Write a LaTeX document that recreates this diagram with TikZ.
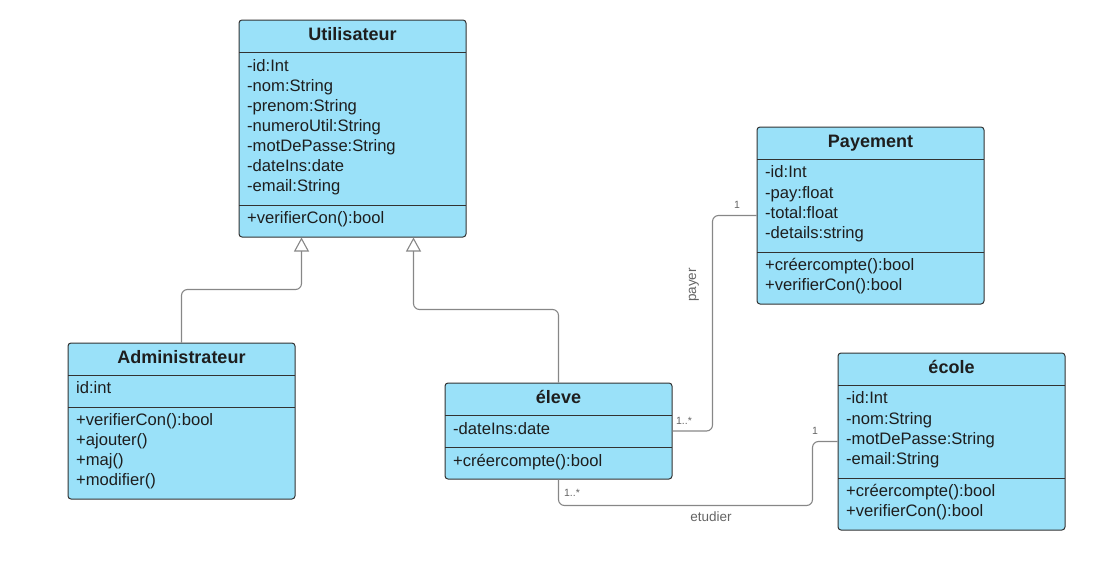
\documentclass[tikz,border=0pt]{standalone}
\usepackage{fontspec}
\setmainfont{Liberation Sans}
\usetikzlibrary{arrows.meta,calc}
\definecolor{clsfill}{RGB}{154,225,249}
\definecolor{clsdraw}{RGB}{50,50,50}
\definecolor{conn}{RGB}{135,135,135}
\definecolor{lbl}{RGB}{100,100,100}
\definecolor{txt}{RGB}{30,30,30}
\tikzset{
  cls/.style={draw=clsdraw, fill=clsfill, line width=1pt, rounded corners=3pt, inner sep=0pt},
  divider/.style={draw=clsdraw, line width=1pt},
  title/.style={font=\fontsize{18}{20}\selectfont\bfseries, text=txt, inner sep=0pt, anchor=base},
  attr/.style={font=\fontsize{16.6}{20}\selectfont, text=txt, inner sep=0pt, anchor=base west},
  gen/.style={draw=conn, line width=1.1pt, rounded corners=6pt, -{Triangle[open, length=14pt, width=15pt, fill=white]}},
  assoc/.style={draw=conn, line width=1.1pt, rounded corners=6pt},
  mult/.style={font=\fontsize{10.5}{12}\selectfont, text=lbl, inner sep=0pt},
  rolelbl/.style={font=\fontsize{13.5}{15}\selectfont, text=lbl, inner sep=0pt},
}
\begin{document}
\begin{tikzpicture}[x=1pt,y=-1pt]
\useasboundingbox (0,0) rectangle (1103,570);

% Utilisateur
\node[cls, minimum width=227pt, minimum height=217pt] (util) at (352.5,128.5) {};
\draw[divider] (239,52) -- (466,52);
\draw[divider] (239,205) -- (466,205);
\node[title] (util-t) at (352.5,40.4) {Utilisateur};
\foreach \t [count=\i] in {-id:Int,-nom:String,-prenom:String,-numeroUtil:String,-motDePasse:String,-dateIns:date,-email:String}
  \node[attr] (util-a\i) at (247,{71.9+20*(\i-1)}) {\t};
\node[attr] (util-m1) at (247,223.9) {+verifierCon():bool};

% Administrateur
\node[cls, minimum width=227pt, minimum height=156pt] (admin) at (181.5,421) {};
\draw[divider] (68,375) -- (295,375);
\draw[divider] (68,407) -- (295,407);
\node[title] (admin-t) at (181.5,363.4) {Administrateur};
\node[attr] (admin-a1) at (76,393.9) {id:int};
\foreach \t [count=\i] in {+verifierCon():bool,+ajouter(),+maj(),+modifier()}
  \node[attr] (admin-m\i) at (76,{425.9+20*(\i-1)}) {\t};

% eleve
\node[cls, minimum width=227pt, minimum height=96pt] (eleve) at (558.5,431) {};
\draw[divider] (445,415) -- (672,415);
\draw[divider] (445,447) -- (672,447);
\node[title] (eleve-t) at (558.5,403.4) {éleve};
\node[attr] (eleve-a1) at (453,434.9) {-dateIns:date};
\node[attr] (eleve-m1) at (453,466.9) {+créercompte():bool};

% Payement
\node[cls, minimum width=227pt, minimum height=177pt] (pay) at (870.5,215.5) {};
\draw[divider] (757,159) -- (984,159);
\draw[divider] (757,252) -- (984,252);
\node[title] (pay-t) at (870.5,147.4) {Payement};
\foreach \t [count=\i] in {-id:Int,-pay:float,-total:float,-details:string}
  \node[attr] (pay-a\i) at (765,{177.9+20.3*(\i-1)}) {\t};
\node[attr] (pay-m1) at (765,270.9) {+créercompte():bool};
\node[attr] (pay-m2) at (765,290.9) {+verifierCon():bool};

% ecole
\node[cls, minimum width=227pt, minimum height=177pt] (ecole) at (951.5,441.5) {};
\draw[divider] (838,385) -- (1065,385);
\draw[divider] (838,478) -- (1065,478);
\node[title] (ecole-t) at (951.5,373.4) {école};
\foreach \t [count=\i] in {-id:Int,-nom:String,-motDePasse:String,-email:String}
  \node[attr] (ecole-a\i) at (846,{403.9+20.3*(\i-1)}) {\t};
\node[attr] (ecole-m1) at (846,496.9) {+créercompte():bool};
\node[attr] (ecole-m2) at (846,516.9) {+verifierCon():bool};

% generalisations
\coordinate (genA) at ($(util.south west)+(63,0)$);
\coordinate (genE) at ($(util.south west)+(175,0)$);
\draw[gen] (admin.north) -- ++(0,-53) -| (genA);
\draw[gen] (eleve.north) -- ++(0,-73) -| (genE);

% payer
\coordinate (payX) at ($(pay.west)+(-44,0)$);
\draw[assoc] (eleve.east) -| (payX) -- (pay.west);
\node[mult] (m-pay1) at (684,421) {1..*};
\node[mult] (m-pay2) at (737,205) {1};
\node[rolelbl, rotate=90] (l-payer) at (694,285) {payer};

% etudier
\coordinate (ecX) at ($(ecole.west)+(-25,0)$);
\draw[assoc] (eleve.south) -- ++(0,26) -| (ecX) -- (ecole.west);
\node[mult] (m-et1) at (572,493) {1..*};
\node[mult] (m-et2) at (815,431) {1};
\node[rolelbl] (l-etudier) at (711,517) {etudier};
\end{tikzpicture}
\end{document}
